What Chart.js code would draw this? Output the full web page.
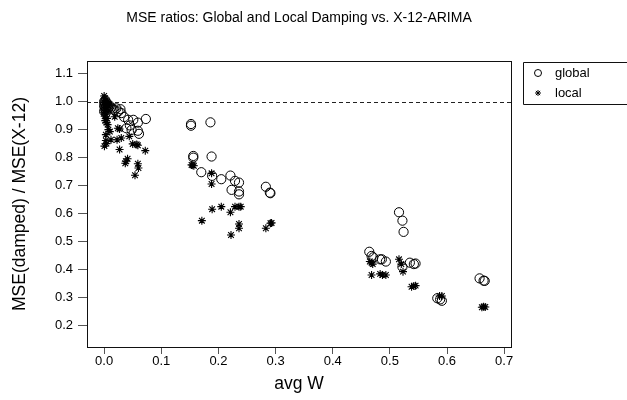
<!DOCTYPE html>
<html>
<head>
<meta charset="utf-8">
<script src="https://cdn.jsdelivr.net/npm/chart.js@4"></script>
<style>
  html, body { margin: 0; padding: 0; background: #fff; overflow: hidden; }
  #wrap { width: 627px; height: 400px; }
</style>
</head>
<body>
<div id="wrap"><canvas id="chart" width="627" height="400"></canvas></div>
<script>
// chart text
const chartTitle = 'MSE ratios: Global and Local Damping vs. X-12-ARIMA';
const xTitle = 'avg W';
const yTitle = 'MSE(damped) / MSE(X-12)';
const seriesNames = ['global', 'local'];

// tick labels
const xTickValues = [0.0, 0.1, 0.2, 0.3, 0.4, 0.5, 0.6, 0.7];
const yTickValues = [0.2, 0.3, 0.4, 0.5, 0.6, 0.7, 0.8, 0.9, 1.0, 1.1];
const referenceRatio = 1.0;

// global damping (circles)
const globalW = [
    0.000, 0.001, 0.002, 0.000, 0.003, 0.001, 0.004, 0.002, 0.005, 0.006,
    0.008, 0.010, 0.012, 0.015, 0.018, 0.000, 0.003, 0.007, 0.0215, 0.0285,
    0.030, 0.025, 0.042, 0.051, 0.059, 0.073, 0.039, 0.048, 0.059, 0.061,
    0.035, 0.045, 0.152, 0.152, 0.186, 0.156, 0.156, 0.188, 0.170, 0.189,
    0.205, 0.221, 0.229, 0.236, 0.223, 0.236, 0.236, 0.283, 0.290, 0.291,
    0.516, 0.522, 0.524, 0.464, 0.468, 0.471, 0.483, 0.493, 0.486, 0.522,
    0.535, 0.542, 0.545, 0.583, 0.588, 0.591, 0.657, 0.664, 0.666
];
const globalRatio = [
    1.000, 0.995, 0.990, 0.985, 0.980, 0.975, 0.970, 1.005, 0.995, 0.985,
    0.980, 0.985, 0.978, 0.975, 0.970, 0.965, 0.960, 0.975, 0.976, 0.973,
    0.959, 0.965, 0.935, 0.935, 0.925, 0.938, 0.905, 0.899, 0.896, 0.885,
    0.945, 0.915, 0.920, 0.914, 0.926, 0.806, 0.800, 0.804, 0.748, 0.735,
    0.723, 0.736, 0.717, 0.711, 0.685, 0.679, 0.669, 0.696, 0.675, 0.673,
    0.605, 0.575, 0.535, 0.464, 0.449, 0.444, 0.437, 0.429, 0.437, 0.410,
    0.425, 0.420, 0.422, 0.298, 0.294, 0.289, 0.369, 0.361, 0.360
];

// local damping (asterisks)
const localW = [
    0.000, 0.001, 0.002, 0.000, 0.003, 0.001, 0.004, 0.002, 0.000, 0.003,
    0.001, 0.005, 0.002, 0.004, 0.006, 0.008, 0.006, 0.005, 0.0075, 0.010,
    0.0185, 0.027, 0.024, 0.003, 0.003, 0.012, 0.0226, 0.030, 0.044, 0.050,
    0.059, 0.057, 0.072, 0.027, 0.041, 0.038, 0.037, 0.059, 0.060, 0.054,
    0.0005, 0.004, 0.153, 0.155, 0.157, 0.188, 0.188, 0.171, 0.189, 0.205,
    0.221, 0.229, 0.236, 0.239, 0.236, 0.236, 0.222, 0.283, 0.291, 0.293,
    0.465, 0.468, 0.470, 0.468, 0.483, 0.487, 0.493, 0.516, 0.523, 0.520,
    0.538, 0.542, 0.545, 0.587, 0.591, 0.661, 0.664, 0.667
];
const localRatio = [
    1.020, 1.012, 1.005, 0.998, 0.992, 0.985, 0.978, 0.970, 0.962, 0.955,
    0.948, 0.940, 0.932, 0.925, 0.918, 0.985, 0.995, 1.000, 0.900, 0.893,
    0.946, 0.902, 0.905, 0.882, 0.861, 0.864, 0.864, 0.870, 0.876, 0.849,
    0.844, 0.847, 0.825, 0.829, 0.796, 0.787, 0.780, 0.778, 0.763, 0.737,
    0.841, 0.850, 0.774, 0.773, 0.771, 0.744, 0.706, 0.575, 0.616, 0.625,
    0.605, 0.625, 0.625, 0.625, 0.563, 0.548, 0.524, 0.548, 0.566, 0.567,
    0.429, 0.425, 0.420, 0.381, 0.385, 0.381, 0.381, 0.437, 0.393, 0.420,
    0.339, 0.342, 0.343, 0.306, 0.306, 0.266, 0.268, 0.267
];

const FONT = '"Liberation Sans", Arial, Helvetica, sans-serif';

function toPoints(xs, ys) {
    return xs.map((x, i) => ({ x: x, y: ys[i] }));
}

// R-style extras: full box, dashed reference line, title, legend
const rStylePlugin = {
    id: 'rStyle',
    beforeDatasetsDraw(chart) {
        const ctx = chart.ctx;
        const area = chart.chartArea;
        const yRef = chart.scales.y.getPixelForValue(referenceRatio);
        ctx.save();
        ctx.strokeStyle = '#222';
        ctx.lineWidth = 1;
        ctx.setLineDash([4, 3]);
        ctx.beginPath();
        ctx.moveTo(area.left, Math.round(yRef) + 0.5);
        ctx.lineTo(area.right, Math.round(yRef) + 0.5);
        ctx.stroke();
        ctx.restore();
    },
    afterDraw(chart) {
        const ctx = chart.ctx;
        const area = chart.chartArea;
        ctx.save();
        // box
        ctx.strokeStyle = '#111';
        ctx.lineWidth = 1;
        ctx.strokeRect(area.left + 0.5, area.top + 0.5, area.right - area.left, area.bottom - area.top);

        // title
        ctx.fillStyle = '#000';
        ctx.font = '14px ' + FONT;
        ctx.textAlign = 'center';
        ctx.textBaseline = 'middle';
        ctx.fillText(chartTitle, (area.left + area.right) / 2, 18);

        // legend (box runs off the right edge, as in the original)
        const lx = 523, ly = 62;
        ctx.strokeStyle = '#111';
        ctx.beginPath();
        ctx.moveTo(640, ly + 0.5);
        ctx.lineTo(lx + 0.5, ly + 0.5);
        ctx.lineTo(lx + 0.5, ly + 42.5);
        ctx.lineTo(640, ly + 42.5);
        ctx.stroke();
        ctx.font = '13px ' + FONT;
        ctx.textAlign = 'left';
        chart.data.datasets.forEach((ds, i) => {
            const cy = ly + 11 + i * 20;
            ctx.strokeStyle = '#000';
            ctx.fillStyle = 'rgba(0,0,0,0)';
            ctx.lineWidth = 1;
            Chart.helpers.drawPoint(ctx, {
                pointStyle: ds.pointStyle,
                radius: ds.pointStyle === 'circle' ? 3.5 : 3,
                borderWidth: 1
            }, lx + 15, cy);
            ctx.fillStyle = '#000';
            ctx.fillText(seriesNames[i], lx + 32, cy);
        });
        ctx.restore();
    }
};

const ctx = document.getElementById('chart').getContext('2d');
new Chart(ctx, {
    type: 'scatter',
    data: {
        datasets: [
            {
                label: seriesNames[0],
                data: toPoints(globalW, globalRatio),
                pointStyle: 'circle',
                pointRadius: 4.6,
                borderColor: '#000',
                backgroundColor: 'rgba(0,0,0,0)',
                borderWidth: 1
            },
            {
                label: seriesNames[1],
                data: toPoints(localW, localRatio),
                pointStyle: 'star',
                pointRadius: 4,
                borderColor: '#000',
                backgroundColor: 'rgba(0,0,0,0)',
                borderWidth: 1.1
            }
        ]
    },
    options: {
        responsive: false,
        animation: false,
        events: [],
        layout: { padding: { left: 0, top: 61, right: 116, bottom: 0 } },
        plugins: {
            legend: { display: false },
            title: { display: false },
            tooltip: { enabled: false }
        },
        scales: {
            x: {
                type: 'linear',
                min: -0.03,
                max: 0.712,
                afterBuildTicks: scale => { scale.ticks = xTickValues.map(v => ({ value: v })); },
                afterFit: scale => { scale.height = 53; },
                ticks: {
                    color: '#000',
                    font: { family: FONT, size: 13 },
                    padding: 0,
                    maxRotation: 0,
                    callback: v => Number(v).toFixed(1)
                },
                grid: { drawOnChartArea: false, drawTicks: true, tickLength: 7, color: '#555' },
                border: { display: true, color: '#111' },
                title: {
                    display: true,
                    text: xTitle,
                    color: '#000',
                    font: { family: FONT, size: 17.5 },
                    padding: { top: 0, bottom: 5 }
                }
            },
            y: {
                type: 'linear',
                min: 0.124,
                max: 1.145,
                afterBuildTicks: scale => { scale.ticks = yTickValues.map(v => ({ value: v })); },
                afterFit: scale => { scale.width = 87; },
                ticks: {
                    color: '#000',
                    font: { family: FONT, size: 13 },
                    padding: 5,
                    callback: v => Number(v).toFixed(1)
                },
                grid: { drawOnChartArea: false, drawTicks: true, tickLength: 9, color: '#555' },
                border: { display: true, color: '#111' },
                title: {
                    display: true,
                    text: yTitle,
                    color: '#000',
                    font: { family: FONT, size: 17.5 },
                    padding: { top: 10, bottom: 0 }
                }
            }
        }
    },
    plugins: [rStylePlugin]
});
</script>
</body>
</html>
